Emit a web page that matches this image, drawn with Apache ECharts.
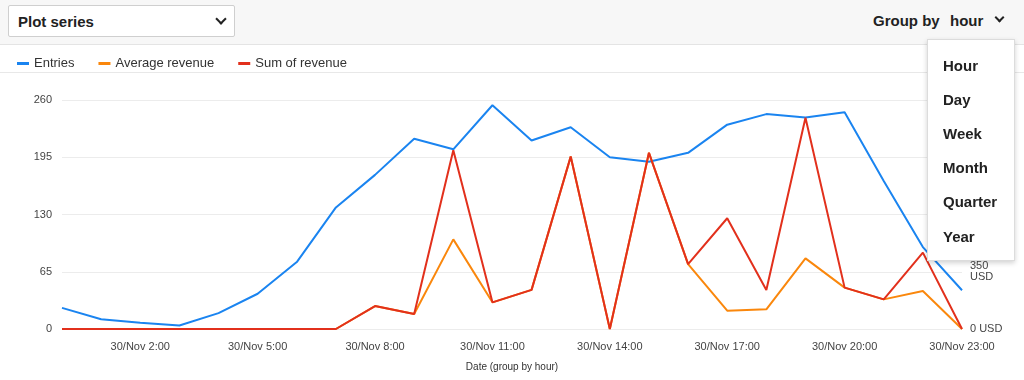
<!DOCTYPE html>
<html>
<head>
<meta charset="utf-8">
<script src="https://cdn.jsdelivr.net/npm/echarts@6/dist/echarts.min.js"></script>
<style>
  html, body { margin: 0; padding: 0; width: 1024px; height: 380px; overflow: hidden; background: #fff; font-family: "Liberation Sans", Arial, sans-serif; }
  #topbar { position: absolute; left: 0; top: 0; width: 1024px; height: 44px; background: #f7f7f7; border-bottom: 1px solid #e4e4e4; }
  #select { position: absolute; left: 8px; top: 5px; width: 227px; height: 32px; background: #fff; border: 1px solid #cfcfcf; border-radius: 2px; box-sizing: border-box; }
  #select .lbl { position: absolute; left: 9px; top: 7px; font-size: 15px; font-weight: 700; color: #222; }
  .chev { position: absolute; width: 6px; height: 6px; border-right: 2px solid #222; border-bottom: 2px solid #222; transform: rotate(45deg); }
  #groupby { position: absolute; left: 873px; top: 12px; font-size: 15px; font-weight: 700; color: #222; }
  #hour { position: absolute; left: 950px; top: 12px; font-size: 15px; font-weight: 700; color: #222; }
  #legendline { position: absolute; left: 0; top: 72px; width: 1024px; height: 1px; background: #e8e8e8; }
  #chart { position: absolute; left: 0; top: 0; width: 1024px; height: 380px; }
  #menu { position: absolute; left: 927px; top: 39px; width: 88px; height: 222px; background: #fff; border: 1px solid #dcdcdc; box-shadow: 0 2px 5px rgba(0,0,0,0.18); box-sizing: border-box; z-index: 10; }
  #menu div { position: absolute; left: 15px; font-size: 15px; font-weight: 700; color: #222; }
</style>
</head>
<body>
<div id="topbar">
  <div id="select"><span class="lbl">Plot series</span><span class="chev" style="left:208px;top:9px;"></span></div>
  <span id="groupby">Group by</span>
  <span id="hour">hour</span>
  <span class="chev" style="left:996px;top:14px;width:5px;height:5px;"></span>
</div>
<div id="legendline"></div>
<div id="chart"></div>
<div id="menu">
  <div style="top:17px">Hour</div>
  <div style="top:51px">Day</div>
  <div style="top:85px">Week</div>
  <div style="top:119px">Month</div>
  <div style="top:153px">Quarter</div>
  <div style="top:188px">Year</div>
</div>
<script>
const categories = ["30/Nov 0:00","30/Nov 1:00","30/Nov 2:00","30/Nov 3:00","30/Nov 4:00","30/Nov 5:00","30/Nov 6:00","30/Nov 7:00","30/Nov 8:00","30/Nov 9:00","30/Nov 10:00","30/Nov 11:00","30/Nov 12:00","30/Nov 13:00","30/Nov 14:00","30/Nov 15:00","30/Nov 16:00","30/Nov 17:00","30/Nov 18:00","30/Nov 19:00","30/Nov 20:00","30/Nov 21:00","30/Nov 22:00","30/Nov 23:00"];
const entries = [24, 11, 7, 4, 18, 40, 76, 138, 175, 216, 204, 254, 214, 229, 195, 190, 200, 232, 244, 240, 246, 168, 93, 44];
const averageRevenue = [0, 0, 0, 0, 0, 0, 0, 0, 140, 92, 548, 163, 239, 1054, 0, 1077, 397, 112, 120, 432, 253, 181, 232, 0];
const sumOfRevenue = [0, 0, 0, 0, 0, 0, 0, 0, 140, 92, 1093, 163, 239, 1054, 0, 1077, 397, 677, 239, 1292, 253, 181, 467, 0];
const leftTicks = { min: 0, max: 260, interval: 65 };
const rightTicks = { min: 0, max: 1400, interval: 350 };

const chart = echarts.init(document.getElementById('chart'), null, { renderer: 'canvas' });
const font = '"Liberation Sans", Arial, sans-serif';
chart.setOption({
  animation: false,
  textStyle: { fontFamily: font },
  color: ['#1a84f0', '#fa870c', '#e2301c'],
  legend: {
    left: 12, top: 52,
    icon: 'rect', itemWidth: 12, itemHeight: 3, itemGap: 24,
    textStyle: { fontSize: 13, color: '#333', fontFamily: font },
    data: ['Entries', 'Average revenue', 'Sum of revenue']
  },
  grid: { left: 62, right: 62, top: 100, bottom: 51 },
  xAxis: {
    type: 'category', data: categories, boundaryGap: false,
    axisLine: { show: false }, axisTick: { show: false },
    axisLabel: { interval: (i) => i % 3 === 2, color: '#444', fontSize: 11, margin: 12, fontFamily: font },
    name: 'Date (group by hour)', nameLocation: 'middle', nameGap: 33,
    nameTextStyle: { fontSize: 10, color: '#333', fontFamily: font }
  },
  yAxis: [
    {
      type: 'value', min: leftTicks.min, max: leftTicks.max, interval: leftTicks.interval,
      axisLine: { show: false }, axisTick: { show: false },
      splitLine: { lineStyle: { color: '#ececec', width: 1 } },
      axisLabel: { color: '#444', fontSize: 11, margin: 10, fontFamily: font }
    },
    {
      type: 'value', min: rightTicks.min, max: rightTicks.max, interval: rightTicks.interval,
      axisLine: { show: false }, axisTick: { show: false }, splitLine: { show: false },
      axisLabel: { color: '#444', fontSize: 11, margin: 8, formatter: '{value} USD', width: 40, overflow: 'break', fontFamily: font }
    }
  ],
  series: [
    { name: 'Entries', type: 'line', data: entries, yAxisIndex: 0, showSymbol: false, lineStyle: { width: 2 } },
    { name: 'Average revenue', type: 'line', data: averageRevenue, yAxisIndex: 1, showSymbol: false, lineStyle: { width: 2 } },
    { name: 'Sum of revenue', type: 'line', data: sumOfRevenue, yAxisIndex: 1, showSymbol: false, lineStyle: { width: 2 } }
  ]
});
</script>
</body>
</html>
